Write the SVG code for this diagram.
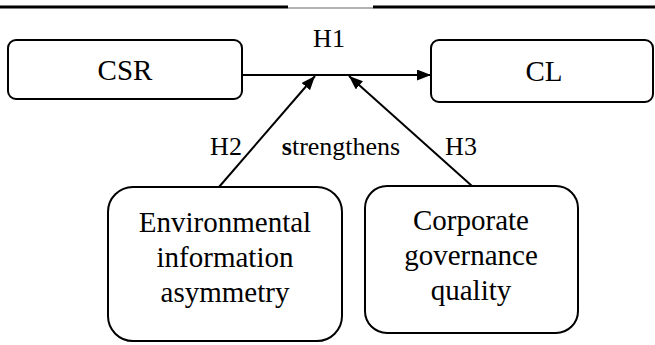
<svg xmlns="http://www.w3.org/2000/svg" width="655" height="345" viewBox="0 0 655 345">
  <defs>
    <marker id="arrow" markerWidth="14" markerHeight="11" refX="14" refY="5.5" orient="auto" markerUnits="userSpaceOnUse">
      <path d="M0,0 L14,5.5 L0,11 Z" fill="#000"/>
    </marker>
    <style>
      .box { fill: #fff; stroke: #000; stroke-width: 2; }
      .lbl { font-family: "Liberation Serif", "Times New Roman", serif; fill: #000; text-anchor: middle; }
      .big { font-size: 29px; }
      .mid { font-size: 26px; }
      .edge { stroke: #000; stroke-width: 2; fill: none; marker-end: url(#arrow); }
    </style>
  </defs>
  <rect width="655" height="345" fill="#fff"/>

  <!-- top rule -->
  <line x1="0" y1="7" x2="288" y2="7" stroke="#000" stroke-width="3"/>
  <line x1="288" y1="8" x2="373" y2="8" stroke="#999" stroke-width="1.5"/>
  <line x1="373" y1="7" x2="655" y2="7" stroke="#000" stroke-width="3"/>

  <g id="connectors">
    <line class="edge" x1="242" y1="75" x2="431" y2="75"/>
    <line class="edge" x1="219" y1="187" x2="315" y2="76"/>
    <line class="edge" x1="472" y1="186" x2="349" y2="76"/>
    <text class="lbl mid" x="329" y="47">H1</text>
    <text class="lbl mid" x="226" y="155">H2</text>
    <text class="lbl mid" x="341" y="155"><tspan font-weight="bold">s</tspan>trengthens</text>
    <text class="lbl mid" x="461" y="155">H3</text>
  </g>

  <g id="node-csr">
    <rect class="box" x="8" y="40" width="234" height="59" rx="8"/>
    <text class="lbl big" x="125" y="80">CSR</text>
  </g>

  <g id="node-cl">
    <rect class="box" x="431" y="40" width="222" height="62" rx="8"/>
    <text class="lbl big" x="544" y="81">CL</text>
  </g>

  <g id="node-eia">
    <rect class="box" x="108" y="187" width="234" height="154" rx="25"/>
    <text class="lbl big" x="225" y="232">Environmental</text>
    <text class="lbl big" x="225" y="267">information</text>
    <text class="lbl big" x="225" y="302">asymmetry</text>
  </g>

  <g id="node-cgq">
    <rect class="box" x="365" y="186" width="213" height="147" rx="22"/>
    <text class="lbl big" x="471" y="230">Corporate</text>
    <text class="lbl big" x="471" y="265">governance</text>
    <text class="lbl big" x="471" y="300">quality</text>
  </g>
</svg>
